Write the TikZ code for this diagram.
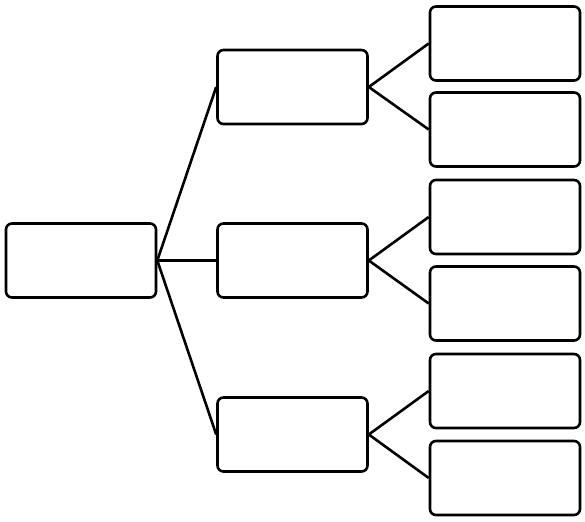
\documentclass[tikz,border=0pt]{standalone}
\usepackage{xcolor}
\definecolor{treeink}{HTML}{000000}

\begin{document}
\begin{tikzpicture}[
  x=1pt,
  y=-1pt,
  treebox/.style={draw=treeink, line width=2.6pt, rounded corners=6pt,
    minimum width=150pt, minimum height=74pt, inner sep=0pt},
  treelink/.style={draw=treeink, line width=2.6pt}
]
  \useasboundingbox (0,0) rectangle (585,521);

  \node[treebox] (root) at (81,260.5) {};

  \node[treebox] (midA) at (292.5,87) {};
  \node[treebox] (midB) at (292.5,260.5) {};
  \node[treebox] (midC) at (292.5,434.5) {};

  \node[treebox] (leafA) at (505,43.5) {};
  \node[treebox] (leafB) at (505,129.5) {};
  \node[treebox] (leafC) at (505,217) {};
  \node[treebox] (leafD) at (505,303.5) {};
  \node[treebox] (leafE) at (505,391) {};
  \node[treebox] (leafF) at (505,478) {};

  \foreach \m in {midA,midB,midC}
    \draw[treelink] (root.east) -- (\m.west);

  \draw[treelink] (leafA.west) -- (midA.east) -- (leafB.west);
  \draw[treelink] (leafC.west) -- (midB.east) -- (leafD.west);
  \draw[treelink] (leafE.west) -- (midC.east) -- (leafF.west);
\end{tikzpicture}
\end{document}
